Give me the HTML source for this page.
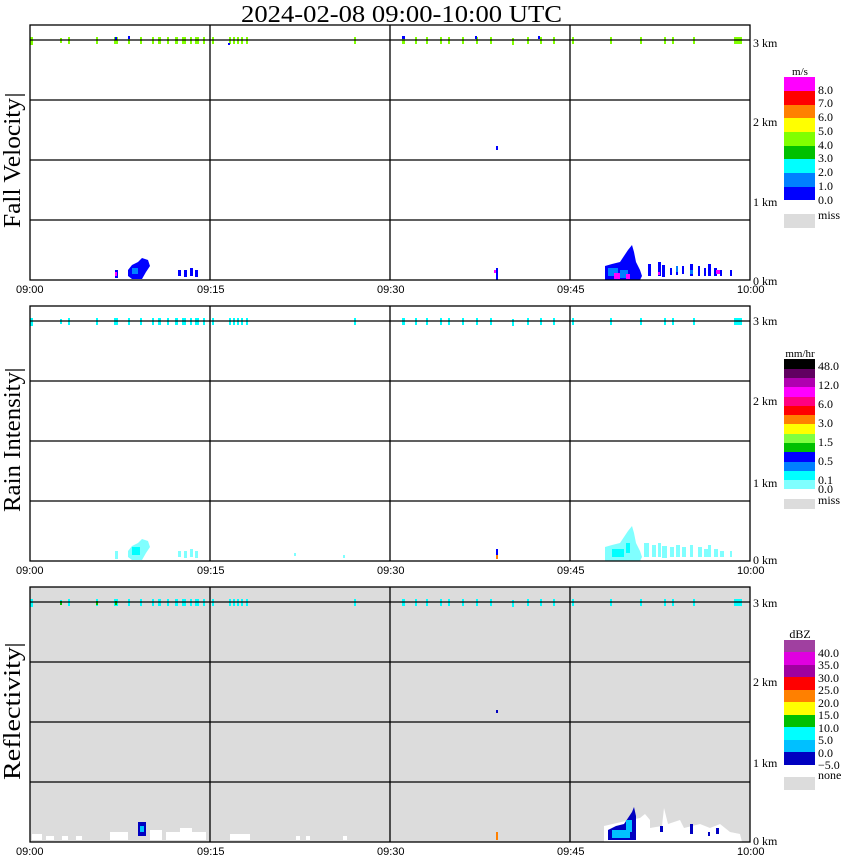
<!DOCTYPE html>
<html><head><meta charset="utf-8"><style>
body{margin:0;background:#fff}
svg{display:block}
text{font-family:"Liberation Serif",serif}
.s{font-family:"Liberation Sans",sans-serif;font-size:11px}
</style></head><body>
<svg width="850" height="868" viewBox="0 0 850 868" xmlns="http://www.w3.org/2000/svg">
<text x="241" y="22" font-size="24" textLength="321" lengthAdjust="spacingAndGlyphs" font-family="Liberation Sans, sans-serif">2024-02-08  09:00-10:00 UTC</text>

<rect x="30" y="587" width="720" height="255" fill="#dcdcdc"/>

<!-- ===== Panel 1 data ===== -->
<g>
<g fill="#80ff00">
<rect x="30" y="37" width="3" height="8"/><rect x="60" y="38" width="2" height="5"/><rect x="68" y="37" width="2" height="7"/><rect x="96" y="37" width="2" height="7"/><rect x="114" y="37" width="4" height="7"/><rect x="128" y="37" width="2" height="7"/><rect x="140" y="37" width="2" height="7"/><rect x="152" y="37" width="2" height="7"/><rect x="158" y="37" width="3" height="7"/><rect x="167" y="37" width="2" height="7"/><rect x="175" y="37" width="3" height="7"/><rect x="182" y="37" width="4" height="7"/><rect x="190" y="37" width="2" height="7"/><rect x="195" y="37" width="4" height="7"/><rect x="203" y="37" width="2" height="7"/><rect x="212" y="37" width="2" height="7"/><rect x="229" y="37" width="2" height="7"/><rect x="233" y="37" width="2" height="7"/><rect x="237" y="37" width="2" height="7"/><rect x="241" y="37" width="2" height="7"/><rect x="246" y="37" width="2" height="7"/><rect x="354" y="37" width="2" height="7"/><rect x="402" y="37" width="3" height="7"/><rect x="415" y="37" width="2" height="7"/><rect x="426" y="37" width="2" height="7"/><rect x="440" y="37" width="2" height="7"/><rect x="448" y="37" width="2" height="7"/><rect x="462" y="37" width="2" height="7"/><rect x="476" y="37" width="2" height="7"/><rect x="490" y="37" width="2" height="7"/><rect x="512" y="38" width="2" height="7"/><rect x="527" y="37" width="2" height="7"/><rect x="540" y="37" width="2" height="7"/><rect x="553" y="37" width="2" height="7"/><rect x="572" y="37" width="2" height="7"/><rect x="610" y="37" width="2" height="7"/><rect x="640" y="37" width="2" height="7"/><rect x="664" y="37" width="2" height="7"/><rect x="672" y="37" width="2" height="7"/><rect x="693" y="37" width="2" height="7"/><rect x="734" y="37" width="8" height="7"/>
</g>
<g fill="#0000ff"><rect x="115" y="37" width="2" height="3"/><rect x="128" y="36" width="2" height="3"/><rect x="228" y="43" width="2" height="2"/><rect x="402" y="36" width="3" height="3"/><rect x="475" y="36" width="2" height="3"/><rect x="538" y="36" width="2" height="3"/>
<rect x="496" y="146" width="2" height="4"/>
<polygon points="128,270 132,265 138,262 142,258 148,260 150,266 146,272 142,279 132,279 128,276"/>
<rect x="115" y="270" width="3" height="8"/><rect x="178" y="270" width="3" height="6"/><rect x="184" y="270" width="3" height="7"/><rect x="190" y="268" width="3" height="8"/><rect x="195" y="270" width="3" height="7"/>
<polygon points="605,278 605,266 612,264 620,262 624,256 628,250 632,245 634,252 636,262 640,270 642,276 640,280 605,280"/>
<rect x="648" y="264" width="3" height="12"/><rect x="658" y="262" width="3" height="14"/><rect x="662" y="265" width="3" height="12"/><rect x="670" y="268" width="2" height="7"/><rect x="676" y="270" width="2" height="5"/><rect x="682" y="266" width="2" height="8"/><rect x="690" y="264" width="3" height="12"/><rect x="698" y="266" width="2" height="10"/><rect x="704" y="268" width="2" height="8"/><rect x="708" y="264" width="3" height="12"/><rect x="714" y="268" width="3" height="8"/><rect x="720" y="270" width="2" height="6"/><rect x="730" y="270" width="2" height="6"/>
</g>
<g fill="#0080ff"><rect x="608" y="268" width="10" height="8"/><rect x="620" y="270" width="8" height="8"/><rect x="132" y="268" width="6" height="6"/><rect x="690" y="270" width="3" height="4"/><rect x="676" y="266" width="2" height="6"/></g>
<g fill="#ff00ff"><rect x="614" y="273" width="6" height="6"/><rect x="626" y="274" width="4" height="5"/><rect x="115" y="272" width="2" height="4"/><rect x="494" y="270" width="2" height="3"/><rect x="716" y="270" width="4" height="4"/><rect x="658" y="272" width="2" height="3"/></g>
<rect x="496" y="268" width="2" height="12" fill="#0000ff"/>
</g>

<!-- ===== Panel 2 data ===== -->
<g transform="translate(0,281)">
<g fill="#00ffff">
<rect x="30" y="37" width="3" height="8"/><rect x="60" y="38" width="2" height="5"/><rect x="68" y="37" width="2" height="7"/><rect x="96" y="37" width="2" height="7"/><rect x="114" y="37" width="4" height="7"/><rect x="128" y="37" width="2" height="7"/><rect x="140" y="37" width="2" height="7"/><rect x="152" y="37" width="2" height="7"/><rect x="158" y="37" width="3" height="7"/><rect x="167" y="37" width="2" height="7"/><rect x="175" y="37" width="3" height="7"/><rect x="182" y="37" width="4" height="7"/><rect x="190" y="37" width="2" height="7"/><rect x="195" y="37" width="4" height="7"/><rect x="203" y="37" width="2" height="7"/><rect x="212" y="37" width="2" height="7"/><rect x="229" y="37" width="2" height="7"/><rect x="233" y="37" width="2" height="7"/><rect x="237" y="37" width="2" height="7"/><rect x="241" y="37" width="2" height="7"/><rect x="246" y="37" width="2" height="7"/><rect x="354" y="37" width="2" height="7"/><rect x="402" y="37" width="3" height="7"/><rect x="415" y="37" width="2" height="7"/><rect x="426" y="37" width="2" height="7"/><rect x="440" y="37" width="2" height="7"/><rect x="448" y="37" width="2" height="7"/><rect x="462" y="37" width="2" height="7"/><rect x="476" y="37" width="2" height="7"/><rect x="490" y="37" width="2" height="7"/><rect x="512" y="38" width="2" height="7"/><rect x="527" y="37" width="2" height="7"/><rect x="540" y="37" width="2" height="7"/><rect x="553" y="37" width="2" height="7"/><rect x="572" y="37" width="2" height="7"/><rect x="610" y="37" width="2" height="7"/><rect x="640" y="37" width="2" height="7"/><rect x="664" y="37" width="2" height="7"/><rect x="672" y="37" width="2" height="7"/><rect x="693" y="37" width="2" height="7"/><rect x="734" y="37" width="8" height="7"/>
</g>
<g fill="#80ffff">
<polygon points="128,270 132,265 138,262 142,258 148,260 150,266 146,272 142,279 132,279 128,276"/>
<rect x="115" y="270" width="3" height="8"/><rect x="178" y="270" width="3" height="6"/><rect x="184" y="270" width="3" height="7"/><rect x="190" y="268" width="3" height="8"/><rect x="195" y="270" width="3" height="7"/><rect x="294" y="272" width="2" height="3"/><rect x="343" y="274" width="2" height="3"/>
<polygon points="605,278 605,266 612,264 620,262 624,256 628,250 632,245 634,252 636,262 640,270 642,276 640,280 605,280"/>
<rect x="644" y="262" width="5" height="14"/><rect x="652" y="264" width="4" height="12"/><rect x="658" y="262" width="3" height="14"/><rect x="662" y="265" width="5" height="12"/><rect x="670" y="266" width="4" height="10"/><rect x="676" y="264" width="4" height="12"/><rect x="682" y="266" width="4" height="10"/><rect x="690" y="264" width="3" height="12"/><rect x="698" y="266" width="4" height="10"/><rect x="704" y="268" width="4" height="8"/><rect x="708" y="264" width="3" height="12"/><rect x="714" y="268" width="4" height="8"/><rect x="720" y="270" width="4" height="6"/><rect x="730" y="270" width="2" height="6"/>
</g>
<g fill="#00ffff"><rect x="132" y="266" width="8" height="8"/><rect x="612" y="268" width="12" height="8"/><rect x="626" y="262" width="4" height="10"/></g>
<rect x="496" y="268" width="2" height="6" fill="#0000ff"/><rect x="496" y="274" width="2" height="4" fill="#ff8000"/>
</g>

<!-- ===== Panel 3 data ===== -->
<g transform="translate(0,562)">
<g fill="#00ffff">
<rect x="30" y="37" width="3" height="8"/><rect x="60" y="38" width="2" height="5"/><rect x="68" y="37" width="2" height="7"/><rect x="96" y="37" width="2" height="7"/><rect x="114" y="37" width="4" height="7"/><rect x="128" y="37" width="2" height="7"/><rect x="140" y="37" width="2" height="7"/><rect x="152" y="37" width="2" height="7"/><rect x="158" y="37" width="3" height="7"/><rect x="167" y="37" width="2" height="7"/><rect x="175" y="37" width="3" height="7"/><rect x="182" y="37" width="4" height="7"/><rect x="190" y="37" width="2" height="7"/><rect x="195" y="37" width="4" height="7"/><rect x="203" y="37" width="2" height="7"/><rect x="212" y="37" width="2" height="7"/><rect x="229" y="37" width="2" height="7"/><rect x="233" y="37" width="2" height="7"/><rect x="237" y="37" width="2" height="7"/><rect x="241" y="37" width="2" height="7"/><rect x="246" y="37" width="2" height="7"/><rect x="354" y="37" width="2" height="7"/><rect x="402" y="37" width="3" height="7"/><rect x="415" y="37" width="2" height="7"/><rect x="426" y="37" width="2" height="7"/><rect x="440" y="37" width="2" height="7"/><rect x="448" y="37" width="2" height="7"/><rect x="462" y="37" width="2" height="7"/><rect x="476" y="37" width="2" height="7"/><rect x="490" y="37" width="2" height="7"/><rect x="512" y="38" width="2" height="7"/><rect x="527" y="37" width="2" height="7"/><rect x="540" y="37" width="2" height="7"/><rect x="553" y="37" width="2" height="7"/><rect x="572" y="37" width="2" height="7"/><rect x="610" y="37" width="2" height="7"/><rect x="640" y="37" width="2" height="7"/><rect x="664" y="37" width="2" height="7"/><rect x="672" y="37" width="2" height="7"/><rect x="693" y="37" width="2" height="7"/><rect x="734" y="37" width="8" height="7"/>
</g>
<g fill="#00c000"><rect x="60" y="39" width="2" height="4"/><rect x="96" y="39" width="2" height="4"/><rect x="115" y="39" width="2" height="4"/></g>
<rect x="496" y="148" width="2" height="3" fill="#0000c0"/>
<g fill="#ffffff">
<rect x="32" y="272" width="10" height="6"/><rect x="46" y="274" width="8" height="4"/><rect x="62" y="274" width="6" height="4"/><rect x="76" y="274" width="6" height="4"/><rect x="110" y="270" width="18" height="8"/><rect x="150" y="268" width="12" height="10"/><rect x="166" y="270" width="40" height="8"/><rect x="180" y="266" width="12" height="4"/><rect x="230" y="272" width="20" height="6"/><rect x="296" y="274" width="4" height="4"/><rect x="343" y="274" width="4" height="4"/><rect x="306" y="274" width="4" height="4"/>
<polygon points="604,278 604,264 630,258 640,256 645,252 650,258 650,266 662,264 664,246 668,262 680,258 684,266 700,262 710,266 720,262 730,270 740,272 742,280 604,280"/>
</g>
<g fill="#0000c0">
<polygon points="608,278 608,268 616,264 624,262 628,256 632,250 634,245 636,254 636,264 636,278"/>
<rect x="138" y="260" width="8" height="14"/><rect x="660" y="264" width="3" height="6"/><rect x="690" y="262" width="3" height="10"/><rect x="708" y="270" width="2" height="4"/><rect x="716" y="266" width="3" height="6"/>
</g>
<g fill="#00c0ff"><rect x="612" y="268" width="18" height="8"/><rect x="626" y="258" width="6" height="12"/><rect x="140" y="264" width="4" height="6"/></g>
<rect x="496" y="270" width="2" height="8" fill="#ff8000"/>
</g>

<!-- ===== Frames and grids ===== -->
<g stroke="#000" stroke-width="1.3" fill="none">
<rect x="30" y="25" width="720" height="255"/>
<line x1="30" y1="40" x2="750" y2="40"/><line x1="30" y1="100" x2="750" y2="100"/><line x1="30" y1="160" x2="750" y2="160"/><line x1="30" y1="220" x2="750" y2="220"/>
<line x1="210" y1="25" x2="210" y2="280"/><line x1="390" y1="25" x2="390" y2="280"/><line x1="570" y1="25" x2="570" y2="280"/>
<rect x="30" y="306" width="720" height="255"/>
<line x1="30" y1="321" x2="750" y2="321"/><line x1="30" y1="381" x2="750" y2="381"/><line x1="30" y1="441" x2="750" y2="441"/><line x1="30" y1="501" x2="750" y2="501"/>
<line x1="210" y1="306" x2="210" y2="561"/><line x1="390" y1="306" x2="390" y2="561"/><line x1="570" y1="306" x2="570" y2="561"/>
<rect x="30" y="587" width="720" height="255"/>
<line x1="30" y1="602" x2="750" y2="602"/><line x1="30" y1="662" x2="750" y2="662"/><line x1="30" y1="722" x2="750" y2="722"/><line x1="30" y1="782" x2="750" y2="782"/>
<line x1="210" y1="587" x2="210" y2="842"/><line x1="390" y1="587" x2="390" y2="842"/><line x1="570" y1="587" x2="570" y2="842"/>
<line x1="5" y1="95" x2="25" y2="95"/><line x1="5" y1="370" x2="25" y2="370"/><line x1="5" y1="645" x2="25" y2="645"/>
</g>

<g>
<text x="16" y="293" class="s">09:00</text><text x="197" y="293" class="s">09:15</text><text x="377" y="293" class="s">09:30</text><text x="557" y="293" class="s">09:45</text><text x="737" y="293" class="s">10:00</text>
<text x="16" y="574" class="s">09:00</text><text x="197" y="574" class="s">09:15</text><text x="377" y="574" class="s">09:30</text><text x="557" y="574" class="s">09:45</text><text x="737" y="574" class="s">10:00</text>
<text x="16" y="855" class="s">09:00</text><text x="197" y="855" class="s">09:15</text><text x="377" y="855" class="s">09:30</text><text x="557" y="855" class="s">09:45</text><text x="737" y="855" class="s">10:00</text>
</g>
<g font-size="12">
<text x="753" y="47">3 km</text><text x="753" y="126">2 km</text><text x="753" y="206">1 km</text><text x="753" y="285">0 km</text>
<text x="753" y="325">3 km</text><text x="753" y="405">2 km</text><text x="753" y="487">1 km</text><text x="753" y="564">0 km</text>
<text x="753" y="607">3 km</text><text x="753" y="686">2 km</text><text x="753" y="767">1 km</text><text x="753" y="845">0 km</text>
</g>
<g font-size="24">
<text transform="translate(20,228) rotate(-90)" textLength="130" lengthAdjust="spacingAndGlyphs">Fall Velocity</text>
<text transform="translate(20,512) rotate(-90)" textLength="140" lengthAdjust="spacingAndGlyphs">Rain Intensity</text>
<text transform="translate(20,780) rotate(-90)" textLength="133" lengthAdjust="spacingAndGlyphs">Reflectivity</text>
</g>

<!-- Legend 1 -->
<text x="800" y="75" font-size="11" text-anchor="middle">m/s</text>
<rect x="784" y="77" width="31" height="14" fill="#ff00ff"/><rect x="784" y="91" width="31" height="14" fill="#ff0000"/><rect x="784" y="105" width="31" height="13" fill="#ff8000"/><rect x="784" y="118" width="31" height="14" fill="#ffff00"/><rect x="784" y="132" width="31" height="14" fill="#80ff00"/><rect x="784" y="146" width="31" height="13" fill="#00c000"/><rect x="784" y="159" width="31" height="14" fill="#00ffff"/><rect x="784" y="173" width="31" height="14" fill="#0080ff"/><rect x="784" y="187" width="31" height="13" fill="#0000ff"/>
<rect x="784" y="214" width="31" height="14" fill="#dcdcdc"/>
<g font-size="12"><text x="818" y="94">8.0</text><text x="818" y="107">7.0</text><text x="818" y="121">6.0</text><text x="818" y="135">5.0</text><text x="818" y="149">4.0</text><text x="818" y="162">3.0</text><text x="818" y="176">2.0</text><text x="818" y="190">1.0</text><text x="818" y="204">0.0</text><text x="818" y="219">miss</text></g>

<!-- Legend 2 -->
<text x="800" y="357" font-size="11" text-anchor="middle">mm/hr</text>
<rect x="784" y="359" width="31" height="10" fill="#000000"/><rect x="784" y="369" width="31" height="9" fill="#600060"/><rect x="784" y="378" width="31" height="9" fill="#b000b0"/><rect x="784" y="387" width="31" height="10" fill="#ff00ff"/><rect x="784" y="397" width="31" height="9" fill="#ff0080"/><rect x="784" y="406" width="31" height="9" fill="#ff0000"/><rect x="784" y="415" width="31" height="9" fill="#ff8000"/><rect x="784" y="424" width="31" height="10" fill="#ffff00"/><rect x="784" y="434" width="31" height="9" fill="#80ff40"/><rect x="784" y="443" width="31" height="9" fill="#00c000"/><rect x="784" y="452" width="31" height="10" fill="#0000ff"/><rect x="784" y="462" width="31" height="9" fill="#0080ff"/><rect x="784" y="471" width="31" height="9" fill="#00ffff"/><rect x="784" y="480" width="31" height="9" fill="#80ffff"/>
<rect x="784" y="499" width="31" height="10" fill="#dcdcdc"/>
<g font-size="12"><text x="818" y="370">48.0</text><text x="818" y="389">12.0</text><text x="818" y="408">6.0</text><text x="818" y="427">3.0</text><text x="818" y="446">1.5</text><text x="818" y="465">0.5</text><text x="818" y="484">0.1</text><text x="818" y="493">0.0</text><text x="818" y="504">miss</text></g>

<!-- Legend 3 -->
<text x="800" y="638" font-size="12" text-anchor="middle">dBZ</text>
<rect x="784" y="640" width="31" height="12" fill="#a040a0"/><rect x="784" y="652" width="31" height="13" fill="#e000e0"/><rect x="784" y="665" width="31" height="12" fill="#a000a0"/><rect x="784" y="677" width="31" height="13" fill="#ff0000"/><rect x="784" y="690" width="31" height="12" fill="#ff8000"/><rect x="784" y="702" width="31" height="13" fill="#ffff00"/><rect x="784" y="715" width="31" height="12" fill="#00c000"/><rect x="784" y="727" width="31" height="13" fill="#00ffff"/><rect x="784" y="740" width="31" height="12" fill="#00c0ff"/><rect x="784" y="752" width="31" height="13" fill="#0000c0"/>
<rect x="784" y="777" width="31" height="13" fill="#dcdcdc"/>
<g font-size="12"><text x="818" y="657">40.0</text><text x="818" y="669">35.0</text><text x="818" y="682">30.0</text><text x="818" y="694">25.0</text><text x="818" y="707">20.0</text><text x="818" y="719">15.0</text><text x="818" y="732">10.0</text><text x="818" y="744">5.0</text><text x="818" y="757">0.0</text><text x="818" y="769">−5.0</text><text x="818" y="779">none</text></g>
</svg>
</body></html>
